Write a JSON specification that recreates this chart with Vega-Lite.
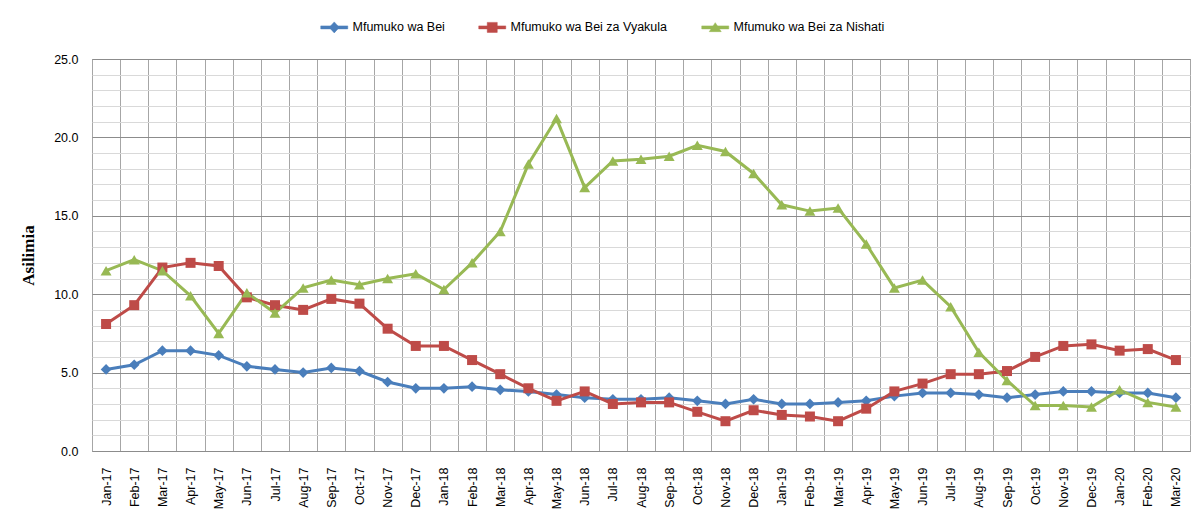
{
  "$schema": "https://vega.github.io/schema/vega-lite/v6.json",
  "width": 1098,
  "height": 392,
  "autosize": {"type": "none"},
  "padding": {"left": 92, "top": 59, "right": 13, "bottom": 80},
  "background": "white",
  "config": {
    "view": {"stroke": "#8c8c8c", "strokeWidth": 1},
    "font": "Liberation Sans"
  },
  "data": {
    "values": [
      {"m": "Jan-17", "s": "Mfumuko wa Bei", "v": 5.2},
      {"m": "Feb-17", "s": "Mfumuko wa Bei", "v": 5.5},
      {"m": "Mar-17", "s": "Mfumuko wa Bei", "v": 6.4},
      {"m": "Apr-17", "s": "Mfumuko wa Bei", "v": 6.4},
      {"m": "May-17", "s": "Mfumuko wa Bei", "v": 6.1},
      {"m": "Jun-17", "s": "Mfumuko wa Bei", "v": 5.4},
      {"m": "Jul-17", "s": "Mfumuko wa Bei", "v": 5.2},
      {"m": "Aug-17", "s": "Mfumuko wa Bei", "v": 5.0},
      {"m": "Sep-17", "s": "Mfumuko wa Bei", "v": 5.3},
      {"m": "Oct-17", "s": "Mfumuko wa Bei", "v": 5.1},
      {"m": "Nov-17", "s": "Mfumuko wa Bei", "v": 4.4},
      {"m": "Dec-17", "s": "Mfumuko wa Bei", "v": 4.0},
      {"m": "Jan-18", "s": "Mfumuko wa Bei", "v": 4.0},
      {"m": "Feb-18", "s": "Mfumuko wa Bei", "v": 4.1},
      {"m": "Mar-18", "s": "Mfumuko wa Bei", "v": 3.9},
      {"m": "Apr-18", "s": "Mfumuko wa Bei", "v": 3.8},
      {"m": "May-18", "s": "Mfumuko wa Bei", "v": 3.6},
      {"m": "Jun-18", "s": "Mfumuko wa Bei", "v": 3.4},
      {"m": "Jul-18", "s": "Mfumuko wa Bei", "v": 3.3},
      {"m": "Aug-18", "s": "Mfumuko wa Bei", "v": 3.3},
      {"m": "Sep-18", "s": "Mfumuko wa Bei", "v": 3.4},
      {"m": "Oct-18", "s": "Mfumuko wa Bei", "v": 3.2},
      {"m": "Nov-18", "s": "Mfumuko wa Bei", "v": 3.0},
      {"m": "Dec-18", "s": "Mfumuko wa Bei", "v": 3.3},
      {"m": "Jan-19", "s": "Mfumuko wa Bei", "v": 3.0},
      {"m": "Feb-19", "s": "Mfumuko wa Bei", "v": 3.0},
      {"m": "Mar-19", "s": "Mfumuko wa Bei", "v": 3.1},
      {"m": "Apr-19", "s": "Mfumuko wa Bei", "v": 3.2},
      {"m": "May-19", "s": "Mfumuko wa Bei", "v": 3.5},
      {"m": "Jun-19", "s": "Mfumuko wa Bei", "v": 3.7},
      {"m": "Jul-19", "s": "Mfumuko wa Bei", "v": 3.7},
      {"m": "Aug-19", "s": "Mfumuko wa Bei", "v": 3.6},
      {"m": "Sep-19", "s": "Mfumuko wa Bei", "v": 3.4},
      {"m": "Oct-19", "s": "Mfumuko wa Bei", "v": 3.6},
      {"m": "Nov-19", "s": "Mfumuko wa Bei", "v": 3.8},
      {"m": "Dec-19", "s": "Mfumuko wa Bei", "v": 3.8},
      {"m": "Jan-20", "s": "Mfumuko wa Bei", "v": 3.7},
      {"m": "Feb-20", "s": "Mfumuko wa Bei", "v": 3.7},
      {"m": "Mar-20", "s": "Mfumuko wa Bei", "v": 3.4},
      {"m": "Jan-17", "s": "Mfumuko wa Bei za Vyakula", "v": 8.1},
      {"m": "Feb-17", "s": "Mfumuko wa Bei za Vyakula", "v": 9.3},
      {"m": "Mar-17", "s": "Mfumuko wa Bei za Vyakula", "v": 11.7},
      {"m": "Apr-17", "s": "Mfumuko wa Bei za Vyakula", "v": 12.0},
      {"m": "May-17", "s": "Mfumuko wa Bei za Vyakula", "v": 11.8},
      {"m": "Jun-17", "s": "Mfumuko wa Bei za Vyakula", "v": 9.8},
      {"m": "Jul-17", "s": "Mfumuko wa Bei za Vyakula", "v": 9.3},
      {"m": "Aug-17", "s": "Mfumuko wa Bei za Vyakula", "v": 9.0},
      {"m": "Sep-17", "s": "Mfumuko wa Bei za Vyakula", "v": 9.7},
      {"m": "Oct-17", "s": "Mfumuko wa Bei za Vyakula", "v": 9.4},
      {"m": "Nov-17", "s": "Mfumuko wa Bei za Vyakula", "v": 7.8},
      {"m": "Dec-17", "s": "Mfumuko wa Bei za Vyakula", "v": 6.7},
      {"m": "Jan-18", "s": "Mfumuko wa Bei za Vyakula", "v": 6.7},
      {"m": "Feb-18", "s": "Mfumuko wa Bei za Vyakula", "v": 5.8},
      {"m": "Mar-18", "s": "Mfumuko wa Bei za Vyakula", "v": 4.9},
      {"m": "Apr-18", "s": "Mfumuko wa Bei za Vyakula", "v": 4.0},
      {"m": "May-18", "s": "Mfumuko wa Bei za Vyakula", "v": 3.2},
      {"m": "Jun-18", "s": "Mfumuko wa Bei za Vyakula", "v": 3.8},
      {"m": "Jul-18", "s": "Mfumuko wa Bei za Vyakula", "v": 3.0},
      {"m": "Aug-18", "s": "Mfumuko wa Bei za Vyakula", "v": 3.1},
      {"m": "Sep-18", "s": "Mfumuko wa Bei za Vyakula", "v": 3.1},
      {"m": "Oct-18", "s": "Mfumuko wa Bei za Vyakula", "v": 2.5},
      {"m": "Nov-18", "s": "Mfumuko wa Bei za Vyakula", "v": 1.9},
      {"m": "Dec-18", "s": "Mfumuko wa Bei za Vyakula", "v": 2.6},
      {"m": "Jan-19", "s": "Mfumuko wa Bei za Vyakula", "v": 2.3},
      {"m": "Feb-19", "s": "Mfumuko wa Bei za Vyakula", "v": 2.2},
      {"m": "Mar-19", "s": "Mfumuko wa Bei za Vyakula", "v": 1.9},
      {"m": "Apr-19", "s": "Mfumuko wa Bei za Vyakula", "v": 2.7},
      {"m": "May-19", "s": "Mfumuko wa Bei za Vyakula", "v": 3.8},
      {"m": "Jun-19", "s": "Mfumuko wa Bei za Vyakula", "v": 4.3},
      {"m": "Jul-19", "s": "Mfumuko wa Bei za Vyakula", "v": 4.9},
      {"m": "Aug-19", "s": "Mfumuko wa Bei za Vyakula", "v": 4.9},
      {"m": "Sep-19", "s": "Mfumuko wa Bei za Vyakula", "v": 5.1},
      {"m": "Oct-19", "s": "Mfumuko wa Bei za Vyakula", "v": 6.0},
      {"m": "Nov-19", "s": "Mfumuko wa Bei za Vyakula", "v": 6.7},
      {"m": "Dec-19", "s": "Mfumuko wa Bei za Vyakula", "v": 6.8},
      {"m": "Jan-20", "s": "Mfumuko wa Bei za Vyakula", "v": 6.4},
      {"m": "Feb-20", "s": "Mfumuko wa Bei za Vyakula", "v": 6.5},
      {"m": "Mar-20", "s": "Mfumuko wa Bei za Vyakula", "v": 5.8},
      {"m": "Jan-17", "s": "Mfumuko wa Bei za Nishati", "v": 11.5},
      {"m": "Feb-17", "s": "Mfumuko wa Bei za Nishati", "v": 12.2},
      {"m": "Mar-17", "s": "Mfumuko wa Bei za Nishati", "v": 11.5},
      {"m": "Apr-17", "s": "Mfumuko wa Bei za Nishati", "v": 9.9},
      {"m": "May-17", "s": "Mfumuko wa Bei za Nishati", "v": 7.5},
      {"m": "Jun-17", "s": "Mfumuko wa Bei za Nishati", "v": 10.1},
      {"m": "Jul-17", "s": "Mfumuko wa Bei za Nishati", "v": 8.8},
      {"m": "Aug-17", "s": "Mfumuko wa Bei za Nishati", "v": 10.4},
      {"m": "Sep-17", "s": "Mfumuko wa Bei za Nishati", "v": 10.9},
      {"m": "Oct-17", "s": "Mfumuko wa Bei za Nishati", "v": 10.6},
      {"m": "Nov-17", "s": "Mfumuko wa Bei za Nishati", "v": 11.0},
      {"m": "Dec-17", "s": "Mfumuko wa Bei za Nishati", "v": 11.3},
      {"m": "Jan-18", "s": "Mfumuko wa Bei za Nishati", "v": 10.3},
      {"m": "Feb-18", "s": "Mfumuko wa Bei za Nishati", "v": 12.0},
      {"m": "Mar-18", "s": "Mfumuko wa Bei za Nishati", "v": 14.0},
      {"m": "Apr-18", "s": "Mfumuko wa Bei za Nishati", "v": 18.3},
      {"m": "May-18", "s": "Mfumuko wa Bei za Nishati", "v": 21.2},
      {"m": "Jun-18", "s": "Mfumuko wa Bei za Nishati", "v": 16.8},
      {"m": "Jul-18", "s": "Mfumuko wa Bei za Nishati", "v": 18.5},
      {"m": "Aug-18", "s": "Mfumuko wa Bei za Nishati", "v": 18.6},
      {"m": "Sep-18", "s": "Mfumuko wa Bei za Nishati", "v": 18.8},
      {"m": "Oct-18", "s": "Mfumuko wa Bei za Nishati", "v": 19.5},
      {"m": "Nov-18", "s": "Mfumuko wa Bei za Nishati", "v": 19.1},
      {"m": "Dec-18", "s": "Mfumuko wa Bei za Nishati", "v": 17.7},
      {"m": "Jan-19", "s": "Mfumuko wa Bei za Nishati", "v": 15.7},
      {"m": "Feb-19", "s": "Mfumuko wa Bei za Nishati", "v": 15.3},
      {"m": "Mar-19", "s": "Mfumuko wa Bei za Nishati", "v": 15.5},
      {"m": "Apr-19", "s": "Mfumuko wa Bei za Nishati", "v": 13.2},
      {"m": "May-19", "s": "Mfumuko wa Bei za Nishati", "v": 10.4},
      {"m": "Jun-19", "s": "Mfumuko wa Bei za Nishati", "v": 10.9},
      {"m": "Jul-19", "s": "Mfumuko wa Bei za Nishati", "v": 9.2},
      {"m": "Aug-19", "s": "Mfumuko wa Bei za Nishati", "v": 6.3},
      {"m": "Sep-19", "s": "Mfumuko wa Bei za Nishati", "v": 4.5},
      {"m": "Oct-19", "s": "Mfumuko wa Bei za Nishati", "v": 2.9},
      {"m": "Nov-19", "s": "Mfumuko wa Bei za Nishati", "v": 2.9},
      {"m": "Dec-19", "s": "Mfumuko wa Bei za Nishati", "v": 2.8},
      {"m": "Jan-20", "s": "Mfumuko wa Bei za Nishati", "v": 3.9},
      {"m": "Feb-20", "s": "Mfumuko wa Bei za Nishati", "v": 3.1},
      {"m": "Mar-20", "s": "Mfumuko wa Bei za Nishati", "v": 2.8}
    ]
  },
  "encoding": {
    "x": {
      "field": "m",
      "type": "ordinal",
      "sort": null,
      "bandPosition": 0.5,
      "scale": {"type": "band", "paddingInner": 0, "paddingOuter": 0},
      "axis": {
        "title": null,
        "labelAngle": -90,
        "tickBand": "extent",
        "grid": true,
        "gridColor": "#a6a6a6",
        "gridWidth": 1,
        "ticks": false,
        "tickSize": 0,
        "domain": false,
        "labelPadding": 16,
        "labelFontSize": 12.5,
        "labelColor": "#000000",
        "labelFont": "Liberation Sans"
      }
    },
    "y": {
      "field": "v",
      "type": "quantitative",
      "scale": {"domain": [0, 25], "nice": false, "zero": true},
      "axis": {
        "title": "Asilimia",
        "titleFont": "Liberation Serif",
        "titleFontWeight": "bold",
        "titleFontSize": 17,
        "titleColor": "#000000",
        "titlePadding": 16,
        "values": [0,1,2,3,4,5,6,7,8,9,10,11,12,13,14,15,16,17,18,19,20,21,22,23,24,25],
        "labelExpr": "datum.value % 5 === 0 ? format(datum.value, '.1f') : ''",
        "grid": true,
        "gridColor": {"condition": {"test": "datum.value % 5 === 0", "value": "#8c8c8c"}, "value": "#d9d9d9"},
        "gridWidth": 1,
        "ticks": false,
        "tickSize": 0,
        "domain": false,
        "labelPadding": 14,
        "labelFontSize": 12.5,
        "labelColor": "#000000",
        "labelFont": "Liberation Sans"
      }
    },
    "color": {
      "field": "s",
      "type": "nominal",
      "sort": ["Mfumuko wa Bei", "Mfumuko wa Bei za Vyakula", "Mfumuko wa Bei za Nishati"],
      "scale": {
        "domain": ["Mfumuko wa Bei", "Mfumuko wa Bei za Vyakula", "Mfumuko wa Bei za Nishati"],
        "range": ["#4A7EBB", "#BE4B48", "#98B954"]
      },
      "legend": {
        "title": null,
        "orient": "none",
        "legendX": 236,
        "legendY": -38,
        "direction": "horizontal",
        "labelFontSize": 12.5,
        "labelFont": "Liberation Sans",
        "labelColor": "#000000",
        "columnPadding": 32,
        "symbolSize": 100,
        "symbolStrokeWidth": 0.5,
        "symbolOpacity": 1,
        "labelOffset": 12,
        "encode": {
          "symbols": {
            "update": {
              "shape": {"signal": "datum.value === 'Mfumuko wa Bei' ? 'M-2.7,-0.3H2.7V0.3H-2.7ZM0,-1.1L1.0,0L0,1.1L-1.0,0Z' : datum.value === 'Mfumuko wa Bei za Vyakula' ? 'M-2.7,-0.3H2.7V0.3H-2.7ZM-1.0,-1.0H1.0V1.0H-1.0Z' : 'M-2.7,-0.3H2.7V0.3H-2.7ZM0,-0.95L1.2,0.85H-1.2Z'"},
              "fill": {"signal": "datum.value === 'Mfumuko wa Bei' ? '#4A7EBB' : datum.value === 'Mfumuko wa Bei za Vyakula' ? '#BE4B48' : '#98B954'"}
            }
          }
        }
      }
    }
  },
  "layer": [
    {"mark": {"type": "line", "strokeWidth": 3}},
    {
      "transform": [{"filter": "datum.s === 'Mfumuko wa Bei'"}],
      "mark": {"type": "point", "filled": true, "opacity": 1, "size": 115, "shape": "diamond"}
    },
    {
      "transform": [{"filter": "datum.s === 'Mfumuko wa Bei za Vyakula'"}],
      "mark": {"type": "point", "filled": true, "opacity": 1, "size": 100, "shape": "square"}
    },
    {
      "transform": [{"filter": "datum.s === 'Mfumuko wa Bei za Nishati'"}],
      "mark": {"type": "point", "filled": true, "opacity": 1, "size": 120, "shape": "triangle-up"}
    }
  ]
}
